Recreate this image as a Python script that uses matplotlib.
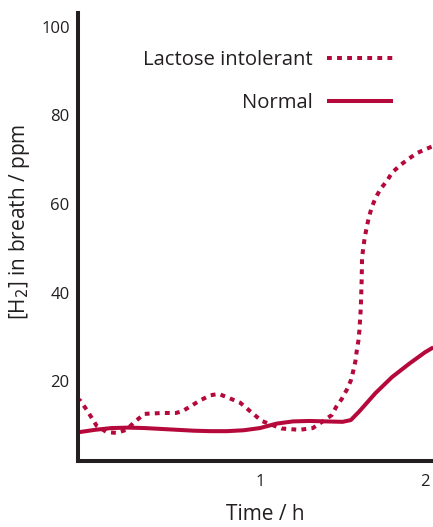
import matplotlib
matplotlib.use("Agg")
import matplotlib.pyplot as plt

# valores
t_normal = [-0.11, 0.0, 0.1, 0.2, 0.3, 0.4, 0.5, 0.6, 0.7, 0.8, 0.9, 1.0, 1.1,
            1.2, 1.3, 1.4, 1.5, 1.55, 1.6, 1.7, 1.8, 1.9, 2.0, 2.05]
h2_normal = [8.5, 9.1, 9.5, 9.6, 9.5, 9.3, 9.1, 8.9, 8.8, 8.8, 9.0, 9.5, 10.5,
             11.0, 11.1, 11.0, 10.9, 11.3, 13.2, 17.4, 21.0, 23.9, 26.6, 27.7]

t_lactose = [-0.11, -0.09, -0.05, 0.01, 0.07, 0.13, 0.19, 0.24, 0.30, 0.41, 0.49,
             0.53, 0.64, 0.70, 0.75, 0.81, 0.88, 0.94, 1.01, 1.13, 1.24, 1.32,
             1.376, 1.435, 1.461, 1.495, 1.525, 1.55, 1.565, 1.578, 1.586,
             1.596, 1.602, 1.606, 1.61, 1.612, 1.614, 1.616, 1.618, 1.626,
             1.635, 1.647, 1.66, 1.677, 1.70, 1.73, 1.77, 1.80, 1.85, 1.90,
             1.95, 2.01, 2.05]
h2_lactose = [16.2, 15.7, 13.6, 10.0, 8.6, 8.4, 9.1, 10.9, 12.7, 12.9, 12.9,
              13.3, 15.8, 16.9, 17.2, 16.3, 15.2, 13.3, 11.1, 9.4, 9.1, 9.5,
              10.9, 12.45, 14.25, 16.05, 18.1, 20.2, 22.4, 24.6, 26.9,
              29.2, 31.5, 33.9, 36.3, 38.4, 40.8, 43.1, 47.8, 50.3,
              52.6, 54.9, 57.1, 59.3, 61.4, 63.4, 65.3, 67.1, 68.8, 70.2,
              71.5, 72.5, 73.1]

xticks = [1, 2]
yticks = [20, 40, 60, 80, 100]

rojo = '#b5083b'
negro = '#231f20'

plt.rcParams['font.family'] = ['Open Sans', 'DejaVu Sans']

fig = plt.figure(figsize=(4.33, 5.27), dpi=100)
ax = fig.add_axes([78/433, 1-461/527, 1-78/433, (461-13)/527])

ax.plot(t_lactose, h2_lactose, color=rojo, lw=2.9, linestyle=(0, (1.2, 1.3)),
        dash_capstyle='butt', label='Lactose intolerant', clip_on=False)
ax.plot(t_normal, h2_normal, color=rojo, lw=2.9, label='Normal',
        solid_capstyle='butt')

ax.set_xlim(-0.103, 2.048)
ax.set_ylim(2.07, 103.1)
ax.set_xticks(xticks)
ax.set_yticks(yticks)
ax.tick_params(length=0, labelsize=12, colors=negro)
ax.tick_params(axis='y', pad=6)
ax.tick_params(axis='x', pad=9)

for s in ['top', 'right']:
    ax.spines[s].set_visible(False)
for s in ['left', 'bottom']:
    ax.spines[s].set_linewidth(2.9)
    ax.spines[s].set_color(negro)

ax.set_xlabel('Time / h', fontsize=15, color=negro)
ax.xaxis.set_label_coords((265-78)/355, (461-504)/448)
ax.set_ylabel('[H$_2$] in breath / ppm', fontsize=15, color=negro)
ax.yaxis.set_label_coords((32-78)/355, (461-222)/448)

leg = ax.legend(loc='upper right', bbox_to_anchor=((393-78)/355, (461-50)/448),
                frameon=False, markerfirst=False, fontsize=14.6,
                handlelength=3.25, handletextpad=0.69, labelspacing=1.14,
                borderpad=0, borderaxespad=0)
for txt in leg.get_texts():
    txt.set_color(negro)

fig.savefig('out.png', dpi=100)
